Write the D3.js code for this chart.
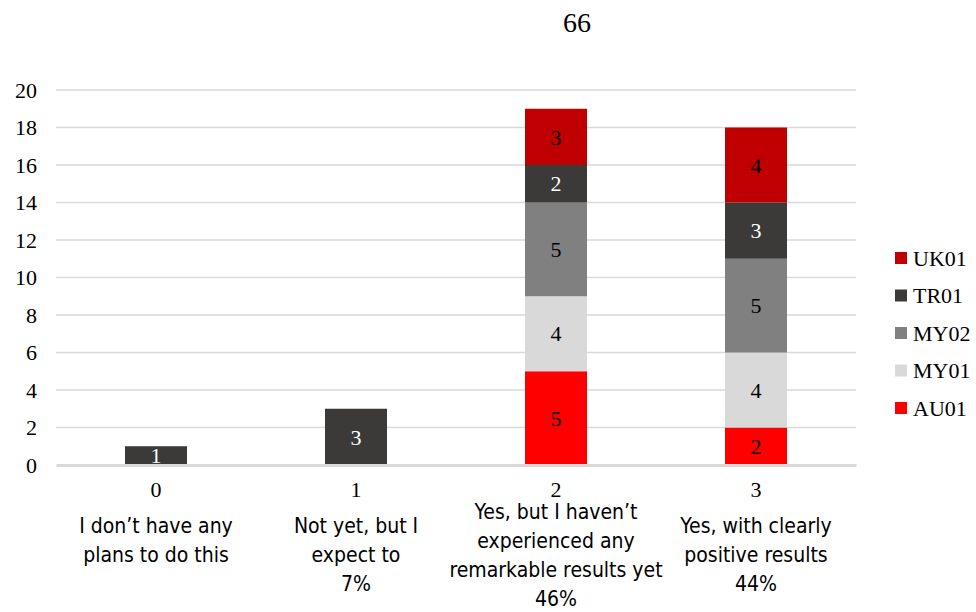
<!DOCTYPE html>
<html>
<head>
<meta charset="utf-8">
<script src="https://cdn.jsdelivr.net/npm/d3@7"></script>
<style>
  html, body { margin: 0; padding: 0; background: #fff; }
  svg { display: block; }
  .cat { font-family: "Liberation Sans Narrow", "DejaVu Sans Condensed", "Noto Sans", sans-serif; font-weight: 300; }
</style>
</head>
<body>
<script>
// Responses per answer option, stacked by site
const categories = ["0", "1", "2", "3"];
const categoryText = [
  ["I don\u2019t have any", "plans to do this", ""],
  ["Not yet, but I", "expect to", "7%"],
  ["Yes, but I haven\u2019t", "experienced any", "remarkable results yet", "46%"],
  ["Yes, with clearly", "positive results", "44%"]
];
const seriesNames = ["AU01", "MY01", "MY02", "TR01", "UK01"];
const AU01 = [0, 0, 5, 2];
const MY01 = [0, 0, 4, 4];
const MY02 = [0, 0, 5, 5];
const TR01 = [1, 3, 2, 3];
const UK01 = [0, 0, 3, 4];
const yTicks = [0, 2, 4, 6, 8, 10, 12, 14, 16, 18, 20];
const pageTitle = "66";

const seriesValues = { AU01, MY01, MY02, TR01, UK01 };
const colors = { AU01: "#FF0000", MY01: "#D9D9D9", MY02: "#808080", TR01: "#3B3A38", UK01: "#C00000" };
const labelColors = { AU01: "#000", MY01: "#000", MY02: "#000", TR01: "#fff", UK01: "#000" };

const W = 976, H = 612;
const svg = d3.select("body").append("svg").attr("width", W).attr("height", H);

const plot = { left: 56, right: 856, top: 90, bottom: 465 };

const x = d3.scaleBand().domain(categories).range([plot.left, plot.right]).paddingInner(0.69).paddingOuter(0.345);
const y = d3.scaleLinear().domain([0, 20]).range([plot.bottom, plot.top]);

const serifFamily = "Liberation Serif, Times New Roman, serif";

// page number
svg.append("text")
  .attr("x", 577).attr("y", 22).attr("dy", "0.35em")
  .attr("text-anchor", "middle").attr("font-family", serifFamily)
  .attr("font-size", 28).attr("fill", "#000")
  .text(pageTitle);

// gridlines
svg.append("g").selectAll("line").data(yTicks.filter(t => t > 0)).join("line")
  .attr("x1", plot.left).attr("x2", plot.right)
  .attr("y1", d => y(d)).attr("y2", d => y(d))
  .attr("stroke", "#D9D9D9").attr("stroke-width", 1.5);

// y axis labels
const yAxis = d3.axisLeft(y).tickValues(yTicks).tickSize(0).tickPadding(0);
const yg = svg.append("g").attr("transform", "translate(37,0)").call(yAxis);
yg.select(".domain").remove();
yg.selectAll("text").attr("font-size", 22).attr("fill", "#000").attr("font-family", serifFamily);

// stacked bars
const table = categories.map((c, i) => {
  const row = { cat: c };
  seriesNames.forEach(s => row[s] = seriesValues[s][i]);
  return row;
});
const stack = d3.stack().keys(seriesNames)(table);

svg.append("clipPath").attr("id", "plotClip").append("rect")
  .attr("x", plot.left).attr("y", 0).attr("width", plot.right - plot.left).attr("height", plot.bottom);

const layers = svg.append("g").selectAll("g").data(stack).join("g")
  .attr("fill", d => colors[d.key]);
layers.selectAll("rect").data(d => d.filter(p => p[1] - p[0] > 0)).join("rect")
  .attr("x", d => x(d.data.cat))
  .attr("width", x.bandwidth())
  .attr("y", d => y(d[1]))
  .attr("height", d => y(d[0]) - y(d[1]));

// value labels, kept inside the plot area
const lab = svg.append("g").attr("clip-path", "url(#plotClip)");
stack.forEach(layer => {
  lab.selectAll(null).data(layer.filter(p => p[1] - p[0] > 0)).join("text")
    .attr("x", d => x(d.data.cat) + x.bandwidth() / 2)
    .attr("y", d => (y(d[0]) + y(d[1])) / 2)
    .attr("dy", "0.35em")
    .attr("text-anchor", "middle")
    .attr("font-family", serifFamily)
    .attr("font-size", 22)
    .attr("fill", labelColors[layer.key])
    .text(d => d[1] - d[0]);
});

// baseline axis
const xAxis = d3.axisBottom(x).tickSize(0).tickPadding(0);
const xg = svg.append("g").attr("transform", `translate(0,${plot.bottom})`).call(xAxis);
xg.select(".domain").attr("stroke", "#D9D9D9").attr("stroke-width", 3);
xg.selectAll(".tick text").attr("font-family", serifFamily)
  .attr("font-size", 22).attr("fill", "#000").attr("y", 24).attr("dy", "0.35em");

// category descriptions
const lineGap = 29, centerY = 555;
categories.forEach((c, i) => {
  const lines = categoryText[i];
  const start = centerY - (lines.length - 1) * lineGap / 2;
  const t = svg.append("text").attr("class", "cat")
    .attr("text-anchor", "middle").attr("font-size", 21).attr("fill", "#000");
  lines.forEach((ln, k) => {
    t.append("tspan").attr("x", x(c) + x.bandwidth() / 2)
      .attr("y", start + k * lineGap).attr("dy", "0.35em").text(ln);
  });
});

// legend
const legend = svg.append("g");
seriesNames.slice().reverse().forEach((s, i) => {
  const cy = 258 + i * 37.5;
  legend.append("rect").attr("x", 895).attr("y", cy - 6).attr("width", 12).attr("height", 12).attr("fill", colors[s]);
  legend.append("text").attr("x", 913).attr("y", cy).attr("dy", "0.35em")
    .attr("font-family", serifFamily)
    .attr("font-size", 22).attr("fill", "#000").text(s);
});
</script>
</body>
</html>
